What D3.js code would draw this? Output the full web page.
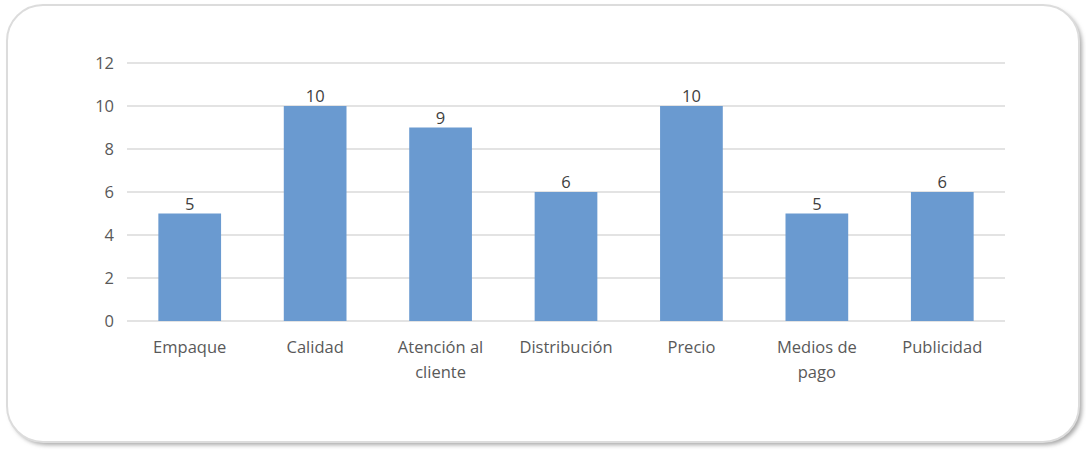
<!DOCTYPE html>
<html>
<head>
<meta charset="utf-8">
<script src="https://cdn.jsdelivr.net/npm/d3@7"></script>
<style>
  body { margin: 0; background: #fff; }
  text { font-family: "Open Sans", "DejaVu Sans", sans-serif; }
</style>
</head>
<body>
<script>
// categories and counts
const categories = ["Empaque", "Calidad", "Atención al|cliente", "Distribución", "Precio", "Medios de|pago", "Publicidad"];
const values = [5, 10, 9, 6, 10, 5, 6];
const yTicks = [0, 2, 4, 6, 8, 10, 12];

const W = 1086, H = 451;
const svg = d3.select("body").append("svg")
  .attr("width", W)
  .attr("height", H);

// soft shadow + rounded frame
const defs = svg.append("defs");
defs.append("filter").attr("id", "blur")
  .append("feGaussianBlur").attr("stdDeviation", 2);
svg.append("rect")
  .attr("x", 10).attr("y", 8)
  .attr("width", 1072).attr("height", 437)
  .attr("rx", 36)
  .attr("fill", "#a8a8a8")
  .attr("filter", "url(#blur)");
svg.append("rect")
  .attr("x", 7).attr("y", 5)
  .attr("width", 1072).attr("height", 437)
  .attr("rx", 36)
  .attr("fill", "#fff")
  .attr("stroke", "#dcdcdc")
  .attr("stroke-width", 2);

const x = d3.scaleBand()
  .domain(categories)
  .range([127, 1005])
  .paddingInner(0.5)
  .paddingOuter(0.25);

const y = d3.scaleLinear()
  .domain([0, 12])
  .range([321, 63]);

// gridlines
svg.append("g")
  .selectAll("line")
  .data(yTicks).enter().append("line")
    .attr("x1", 127).attr("x2", 1005)
    .attr("y1", d => y(d)).attr("y2", d => y(d))
    .attr("stroke", "#e3e3e3")
    .attr("stroke-width", 2);

// y axis labels
let yAxis = d3.axisLeft(y).tickValues(yTicks).tickSize(0).tickPadding(0);
let gy = svg.append("g")
  .attr("transform", "translate(114,0)")
  .call(yAxis);
gy.select(".domain").remove();
gy.selectAll("text")
  .attr("font-size", 16.5)
  .attr("fill", "#595959")
  .style("font-family", "'Open Sans', sans-serif");

// bars
svg.selectAll("rect.bar")
  .data(values).enter().append("rect")
    .attr("class", "bar")
    .attr("x", (d, i) => x(categories[i]))
    .attr("y", d => y(d))
    .attr("width", x.bandwidth())
    .attr("height", d => y(0) - y(d))
    .attr("fill", "#6a9ad0");

// value labels
svg.selectAll("text.val")
  .data(values).enter().append("text")
    .attr("class", "val")
    .attr("x", (d, i) => x(categories[i]) + x.bandwidth() / 2)
    .attr("y", d => y(d) - 4)
    .attr("text-anchor", "middle")
    .attr("font-size", 16.5)
    .attr("fill", "#404040")
    .text(d => d);

// category labels, split on "|"
const xl = svg.selectAll("text.cat")
  .data(categories).enter().append("text")
    .attr("class", "cat")
    .attr("x", d => x(d) + x.bandwidth() / 2)
    .attr("y", 353)
    .attr("text-anchor", "middle")
    .attr("font-size", 16.5)
    .attr("fill", "#595959");
xl.each(function(d) {
  const parts = d.split("|");
  const t = d3.select(this);
  parts.forEach((p, k) => {
    t.append("tspan")
      .attr("x", t.attr("x"))
      .attr("dy", k == 0 ? 0 : 25)
      .text(p);
  });
});
</script>
</body>
</html>
